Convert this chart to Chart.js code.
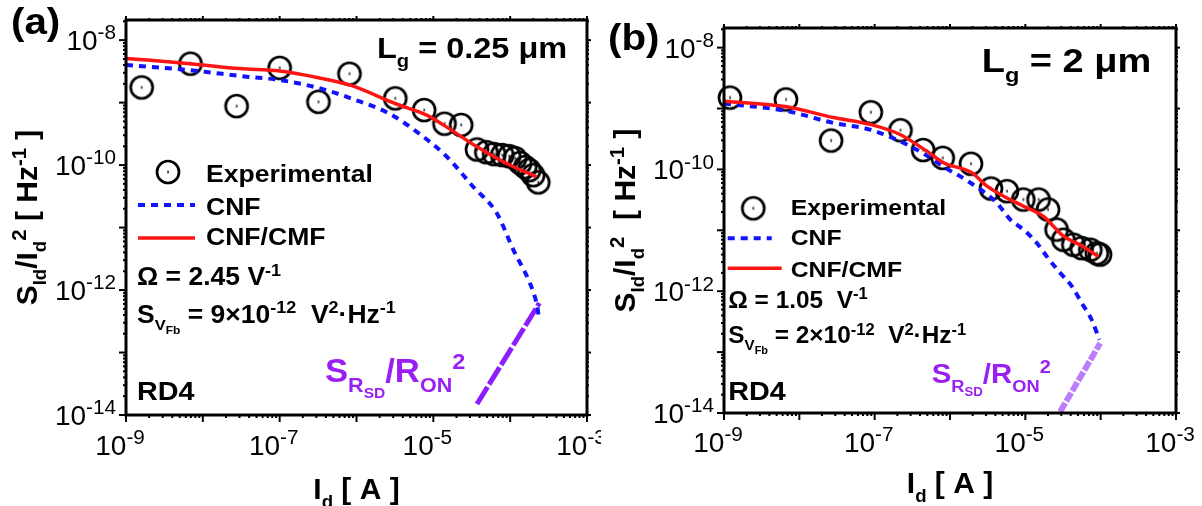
<!DOCTYPE html>
<html>
<head>
<meta charset="utf-8">
<title>Sid/Id2 vs Id</title>
<script src="https://cdn.jsdelivr.net/npm/chart.js@4.4.0/dist/chart.umd.min.js"></script>
<style>
  html, body { margin: 0; padding: 0; background: #fff; }
  #wrap { position: relative; width: 1202px; height: 506px; overflow: hidden; }
  canvas { position: absolute; top: 0; }
  #panelA { left: 0; }
  #panelB { left: 601px; }
</style>
</head>
<body>
<div id="wrap">
  <canvas id="panelA" width="601" height="506"></canvas>
  <canvas id="panelB" width="601" height="506"></canvas>
</div>
<script>
// tick label exponents (labels are 10^e)
const xTickExp = [-9, -7, -5, -3];
const yTickExp = [-8, -10, -12, -14];

// panel (a)  Lg = 0.25 um
const expA_Id = [1.6e-9, 6.9e-9, 2.75e-8, 1.0e-7, 3.2e-7, 8.1e-7, 3.2e-6, 7.6e-6, 1.4e-5, 2.3e-5, 3.7e-5,
                 4.9e-5, 6.2e-5, 7.9e-5, 9.7e-5, 1.16e-4, 1.35e-4, 1.57e-4, 1.77e-4, 1.99e-4, 2.32e-4];
const expA_S  = [1.75e-9, 4.2e-9, 8.8e-10, 3.6e-9, 1.03e-9, 2.9e-9, 1.17e-9, 7.6e-10, 4.6e-10, 4.4e-10, 1.78e-10,
                 1.61e-10, 1.5e-10, 1.45e-10, 1.39e-10, 1.29e-10, 1.08e-10, 9.3e-11, 8.3e-11, 6.9e-11, 5.3e-11];
const cnfA_Id = [1.0e-9, 6.9e-9, 3.7e-8, 1.0e-7, 3.3e-7, 9.0e-7, 2.6e-6, 6.1e-6, 1.5e-5, 3.3e-5, 6.7e-5, 1.1e-4, 1.8e-4, 2.2e-4, 2.4e-4];
const cnfA_S  = [4.0e-9, 3.3e-9, 2.6e-9, 2.3e-9, 1.7e-9, 1.14e-9, 6.8e-10, 3.4e-10, 1.36e-10, 4.5e-11, 1.7e-11, 4.4e-12, 1.3e-12, 6.2e-13, 3.3e-13];
const cmfA_Id = [1.0e-9, 6.9e-9, 3.05e-8, 1.0e-7, 3.2e-7, 8.3e-7, 3.3e-6, 8.2e-6, 1.35e-5, 3.7e-5, 9.0e-5, 2.2e-4];
const cmfA_S  = [5.1e-9, 4.2e-9, 3.5e-9, 3.2e-9, 2.5e-9, 1.9e-9, 9.5e-10, 6.3e-10, 4.4e-10, 1.96e-10, 1.06e-10, 6.5e-11];
const rsdA_Id = [3.7e-5, 2.4e-4];
const rsdA_S  = [1.5e-14, 6.2e-13];

// panel (b)  Lg = 2 um
const expB_Id = [1.2e-9, 6.65e-9, 2.64e-8, 8.9e-8, 2.2e-7, 4.4e-7, 8.0e-7, 1.9e-6, 3.5e-6, 5.7e-6,
                 9.4e-6, 1.5e-5, 2.0e-5, 2.6e-5, 3.2e-5, 4.35e-5, 5.6e-5, 7.3e-5, 8.9e-5, 9.8e-5];
const expB_S  = [1.51e-9, 1.41e-9, 2.98e-10, 8.7e-10, 4.4e-10, 2.08e-10, 1.55e-10, 1.24e-10, 4.85e-11, 4.4e-11,
                 3.2e-11, 3.2e-11, 2.2e-11, 1.03e-11, 7.0e-12, 5.8e-12, 5.1e-12, 4.8e-12, 4.2e-12, 4.0e-12];
const cnfB_Id = [1.0e-9, 6.8e-9, 2.83e-8, 8.7e-8, 2.17e-7, 4.43e-7, 8.6e-7, 1.74e-6, 4.2e-6, 6.3e-6, 9.4e-6, 1.42e-5, 2.0e-5, 2.9e-5, 4.15e-5, 5.6e-5, 7.6e-5, 9.6e-5];
const cnfB_S  = [1.21e-9, 9.1e-10, 5.8e-10, 4.5e-10, 2.9e-10, 1.83e-10, 1.07e-10, 6.4e-11, 2.8e-11, 1.5e-11, 1.03e-11, 6.2e-12, 3.5e-12, 2.0e-12, 1.2e-12, 6.4e-13, 3.4e-13, 1.6e-13];
const cmfB_Id = [1.0e-9, 6.8e-9, 2.83e-8, 8.7e-8, 2.17e-7, 4.9e-7, 8.2e-7, 1.95e-6, 3.1e-6, 5.7e-6, 9.4e-6, 1.74e-5, 3.2e-5, 5.3e-5, 9.35e-5];
const cmfB_S  = [1.32e-9, 1.07e-9, 7.1e-10, 5.5e-10, 3.75e-10, 2.0e-10, 1.29e-10, 8.8e-11, 5.3e-11, 3.4e-11, 2.5e-11, 1.7e-11, 8.0e-12, 5.8e-12, 3.7e-12];
const rsdB_Id = [2.9e-5, 9.85e-5];
const rsdB_S  = [1.05e-14, 1.4e-13];

const FONT = '"Liberation Sans", Arial, Helvetica, sans-serif';
const BLUE = '#1212ff';
const RED = '#ff1414';
const PURPLE = '#9a1ff2';

function pts(xs, ys) {
  return xs.map((v, i) => ({ x: v, y: ys[i] }));
}

// open circle with a small centre mark, used as point style
function makeMarker() {
  const c = document.createElement('canvas');
  c.width = 28; c.height = 28;
  const g = c.getContext('2d');
  g.strokeStyle = '#000';
  g.lineWidth = 2.7;
  g.beginPath();
  g.arc(14, 14, 11, 0, Math.PI * 2);
  g.stroke();
  g.fillStyle = '#000';
  g.fillRect(13.4, 12.6, 1.3, 2.8);
  return c;
}
const marker = makeMarker();

// text with sub/superscripts: parts = [[text, kind]], kind in n/sup/sub/sub2
function drawRich(ctx, x, y, parts, o) {
  const spec = { n: [1, 0], sup: [o.supScale || 0.68, -0.38], sub: [0.62, 0.3], sub2: [0.45, 0.47] };
  const weight = o.bold === false ? '' : 'bold ';
  ctx.save();
  ctx.translate(x, y);
  if (o.rot) ctx.rotate(o.rot);
  ctx.scale(o.sx || 1, 1);
  let total = 0;
  for (const [t, k] of parts) {
    ctx.font = weight + (o.size * spec[k || 'n'][0]).toFixed(1) + 'px ' + FONT;
    total += ctx.measureText(t).width;
  }
  let cx = o.align === 'center' ? -total / 2 : o.align === 'right' ? -total : 0;
  ctx.fillStyle = o.color || '#000';
  ctx.textAlign = 'left';
  ctx.textBaseline = 'alphabetic';
  for (const [t, k] of parts) {
    const s = spec[k || 'n'];
    ctx.font = weight + (o.size * s[0]).toFixed(1) + 'px ' + FONT;
    ctx.fillText(t, cx, o.size * s[1]);
    cx += ctx.measureText(t).width;
  }
  ctx.restore();
}

function seg(ctx, x1, y1, x2, y2) {
  ctx.beginPath();
  ctx.moveTo(x1, y1);
  ctx.lineTo(x2, y2);
  ctx.stroke();
}

const framePlugin = {
  id: 'frame',
  afterDraw(chart) {
    const p = chart.options.plugins.frame;
    const { ctx, chartArea: a, scales: { x, y } } = chart;
    ctx.save();
    ctx.strokeStyle = '#000';
    ctx.lineCap = 'butt';

    // minor and major ticks on all four sides
    ctx.lineWidth = 2;
    for (let e = -9; e <= -3; e++) {
      for (let m = 1; m <= 9; m++) {
        const v = m * Math.pow(10, e);
        if (v > x.max * 1.0001) break;
        const px = x.getPixelForValue(v);
        const major = m === 1;
        seg(ctx, px, a.bottom, px, a.bottom + (major ? 7 : 3));
        seg(ctx, px, a.top, px, a.top - (major ? 4 : 2));
      }
    }
    for (let e = -14; e <= -8; e++) {
      for (let m = 1; m <= 9; m++) {
        const v = m * Math.pow(10, e);
        if (v > y.max) break;
        const py = y.getPixelForValue(v);
        const major = m === 1;
        seg(ctx, a.left, py, a.left - (major ? 7 : 3), py);
        seg(ctx, a.right, py, a.right + (major ? 4 : 2), py);
      }
    }
    ctx.lineWidth = 3;
    ctx.strokeRect(a.left, a.top, a.right - a.left, a.bottom - a.top);

    // tick labels
    for (const e of xTickExp) {
      const px = x.getPixelForValue(Math.pow(10, e));
      drawRich(ctx, px - 6, a.bottom + p.xLabelDy, [['10'], [String(e), 'sup']], { size: 28, bold: false, supScale: 0.74, align: 'center' });
    }
    for (const e of yTickExp) {
      const py = y.getPixelForValue(Math.pow(10, e));
      drawRich(ctx, a.left - 10, py + 10, [['10'], [String(e), 'sup']], { size: 28, bold: false, supScale: 0.74, align: 'right' });
    }

    // axis titles
    drawRich(ctx, (a.left + a.right) / 2, p.xTitleY, [['I'], ['d', 'sub'], [' [ A ]']], { size: 30, align: 'center' });
    drawRich(ctx, p.yTitleX, (a.top + a.bottom) / 2,
      [['S'], ['Id', 'sub'], ['/I'], ['d', 'sub'], ['2', 'sup'], [p.yGap + '[ Hz'], ['-1', 'sup'], [' ]']],
      { size: 30, align: 'center', rot: -Math.PI / 2 });

    // legend
    const L = p.legend;
    ctx.drawImage(marker, L.cx - 14, L.cy - 14);
    ctx.lineWidth = 4;
    ctx.strokeStyle = BLUE;
    ctx.setLineDash([7, 6]);
    seg(ctx, L.x1, L.blueY, L.x2, L.blueY);
    ctx.setLineDash([]);
    ctx.lineWidth = 3.5;
    ctx.strokeStyle = RED;
    seg(ctx, L.x1, L.redY, L.x3, L.redY);

    for (const t of p.texts) drawRich(ctx, t.x, t.y, t.parts, t);
    ctx.restore();
  }
};

function makePanel(id, d, opts) {
  new Chart(document.getElementById(id), {
    type: 'scatter',
    data: {
      datasets: [
        { label: 'CNF/CMF', data: pts(d.cmfI, d.cmfS), showLine: true, borderColor: RED, borderWidth: 3.5,
          pointRadius: 0, cubicInterpolationMode: 'monotone' },
        { label: 'CNF', data: pts(d.cnfI, d.cnfS), showLine: true, borderColor: BLUE, borderWidth: 4,
          borderDash: [7, 6], pointRadius: 0, cubicInterpolationMode: 'monotone' },
        { label: 'SRSD/RON2', data: pts(d.rsdI, d.rsdS), showLine: true, borderColor: opts.rsdColor,
          borderWidth: opts.rsdWidth, borderDash: opts.rsdDash, pointRadius: 0 },
        { label: 'Experimental', data: pts(d.expI, d.expS), showLine: false, pointStyle: marker,
          pointRadius: 12, clip: false }
      ]
    },
    options: {
      responsive: false,
      animation: false,
      devicePixelRatio: 1,
      layout: { padding: opts.pad },
      scales: {
        x: { type: 'logarithmic', min: 1e-9, max: 1e-3, display: false },
        y: { type: 'logarithmic', min: 1e-14, max: 2.1e-8, display: false }
      },
      plugins: {
        legend: { display: false },
        tooltip: { enabled: false },
        frame: opts.frame
      }
    },
    plugins: [framePlugin]
  });
}

makePanel('panelA',
  { expI: expA_Id, expS: expA_S, cnfI: cnfA_Id, cnfS: cnfA_S, cmfI: cmfA_Id, cmfS: cmfA_S, rsdI: rsdA_Id, rsdS: rsdA_S },
  {
    pad: { left: 126, top: 20, right: 14, bottom: 91 },
    rsdColor: '#8b1dff', rsdWidth: 5, rsdDash: [20, 3],
    frame: {
      xLabelDy: 40, xTitleY: 499, yTitleX: 37, yGap: ' ',
      legend: { cx: 168, cy: 172, x1: 138, x2: 195, x3: 195, blueY: 205, redY: 238 },
      texts: [
        { x: 11, y: 34, size: 36, sx: 1.12, parts: [['(a)']] },
        { x: 377, y: 58, size: 29, sx: 1.12, parts: [['L'], ['g', 'sub'], [' = 0.25 μm']] },
        { x: 206, y: 181.5, size: 23.5, sx: 1.13, parts: [['Experimental']] },
        { x: 206, y: 215, size: 23.5, sx: 1.13, parts: [['CNF']] },
        { x: 206, y: 245, size: 23.5, sx: 1.13, parts: [['CNF/CMF']] },
        { x: 137, y: 285, size: 25, sx: 1.06, parts: [['Ω = 2.45 V'], ['-1', 'sup']] },
        { x: 137, y: 322.5, size: 25, sx: 1.06,
          parts: [['S'], ['V', 'sub'], ['Fb', 'sub2'], [' = 9×10'], ['-12', 'sup'], ['  V'], ['2', 'sup'], ['·Hz'], ['-1', 'sup']] },
        { x: 137, y: 400, size: 25, sx: 1.15, parts: [['RD4']] },
        { x: 325, y: 382, size: 33, sx: 1.05, color: PURPLE,
          parts: [['S'], ['R', 'sub'], ['SD', 'sub2'], ['/R'], ['ON', 'sub'], ['2', 'sup']] }
      ]
    }
  });

makePanel('panelB',
  { expI: expB_Id, expS: expB_S, cnfI: cnfB_Id, cnfS: cnfB_S, cmfI: cmfB_Id, cmfS: cmfB_S, rsdI: rsdB_Id, rsdS: rsdB_S },
  {
    pad: { left: 123, top: 28, right: 26, bottom: 93 },
    rsdColor: 'rgba(145, 40, 250, 0.6)', rsdWidth: 6, rsdDash: [10, 2],
    frame: {
      xLabelDy: 39, xTitleY: 493, yTitleX: 34, yGap: '  ',
      legend: { cx: 152.3, cy: 208.3, x1: 126.7, x2: 170.7, x3: 180.7, blueY: 238.3, redY: 268.3 },
      texts: [
        { x: 7, y: 50, size: 36, sx: 1.12, parts: [['(b)']] },
        { x: 380.7, y: 71.7, size: 33, sx: 1.15, parts: [['L'], ['g', 'sub'], [' = 2 μm']] },
        { x: 189.7, y: 215, size: 22.5, sx: 1.1, parts: [['Experimental']] },
        { x: 189.7, y: 245, size: 22.5, sx: 1.1, parts: [['CNF']] },
        { x: 189.7, y: 276.7, size: 22.5, sx: 1.1, parts: [['CNF/CMF']] },
        { x: 127.3, y: 308, size: 23, sx: 1.06, parts: [['Ω = 1.05  V'], ['-1', 'sup']] },
        { x: 127.3, y: 343.3, size: 23, sx: 1.06,
          parts: [['S'], ['V', 'sub'], ['Fb', 'sub2'], [' = 2×10'], ['-12', 'sup'], ['  V'], ['2', 'sup'], ['·Hz'], ['-1', 'sup']] },
        { x: 127.3, y: 400, size: 25, sx: 1.15, parts: [['RD4']] },
        { x: 330.7, y: 383.3, size: 28, sx: 1.05, color: PURPLE,
          parts: [['S'], ['R', 'sub'], ['SD', 'sub2'], ['/R'], ['ON', 'sub'], ['2', 'sup']] }
      ]
    }
  });
</script>
</body>
</html>
